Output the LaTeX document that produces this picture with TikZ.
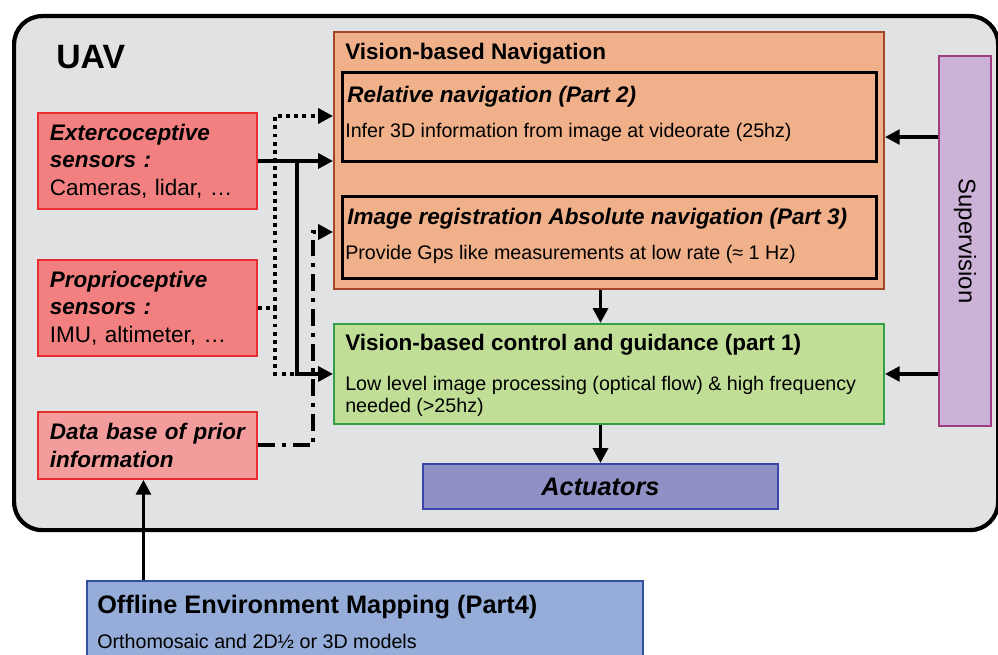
\documentclass[tikz,border=0pt]{standalone}
\usepackage{fontspec}
\setmainfont{Liberation Sans}
\usepackage{tikz}
\usetikzlibrary{arrows.meta, positioning}
\definecolor{uavgray}{RGB}{225,226,228}
\definecolor{navfill}{RGB}{240,176,138}
\definecolor{navdraw}{RGB}{165,70,40}
\definecolor{sensfill}{RGB}{242,128,128}
\definecolor{dbfill}{RGB}{243,156,156}
\definecolor{sensdraw}{RGB}{232,48,48}
\definecolor{ctrlfill}{RGB}{192,222,150}
\definecolor{ctrldraw}{RGB}{50,160,70}
\definecolor{supfill}{RGB}{205,178,216}
\definecolor{supdraw}{RGB}{160,60,130}
\definecolor{actfill}{RGB}{143,144,196}
\definecolor{actdraw}{RGB}{60,70,170}
\definecolor{offfill}{RGB}{149,173,216}
\definecolor{offdraw}{RGB}{50,80,160}

\begin{document}
\begin{tikzpicture}[
 node distance=1.225cm and 1.25cm,
 block/.style={rectangle,draw,line width=1.4pt,inner sep=0pt,anchor=north west},
 sensorbox/.style={rectangle,draw=sensdraw,line width=1.4pt,fill=sensfill,
   minimum width=5.475cm,minimum height=2.4cm,inner xsep=0.3cm,inner ysep=0pt,
   text width=4.875cm,align=left,font=\fontsize{16}{19.5}\selectfont},
 subbox/.style={block,draw=black,line width=2.2pt,minimum width=13.35cm},
 headtext/.style={anchor=base west,inner sep=0pt,font=\fontsize{16}{19}\selectfont\bfseries},
 bodytext/.style={anchor=base west,inner sep=0pt,font=\fontsize{14}{16}\selectfont},
 flowtip/.style={-{Triangle[length=10.5pt,width=10.5pt]}},
 flow/.style={line width=2.5pt,flowtip},
 dotflow/.style={line width=2.8pt,dash pattern=on 2.8pt off 3pt},
 dashdotflow/.style={line width=2.8pt,dash pattern=on 12pt off 5pt on 2.8pt off 5pt}]
 \useasboundingbox (0,0) rectangle (24.95,-16.375);
 \node[block,draw=black,line width=3pt,fill=uavgray,rounded corners=0.7cm,
   minimum width=24.6cm,minimum height=12.85cm] (uav) at (0.3,-0.35) {};
 \node[anchor=base west,inner sep=0pt,font=\fontsize{24}{28}\selectfont\bfseries]
   (uavlabel) at (1.4,-1.725) {UAV};

 \node[block,draw=navdraw,fill=navfill,minimum width=13.75cm,minimum height=6.425cm]
   (nav) at (8.325,-0.775) {};
 \node[headtext] (navtitle) at ([shift={(0.3,-0.725)}]nav.north west)
   {Vision-based Navigation};
 \node[subbox,minimum height=2.225cm] (rel) at ([shift={(0.2,-1)}]nav.north west) {};
 \node[headtext,font=\fontsize{16}{19}\selectfont\bfseries\itshape] (reltitle)
   at ([shift={(0.15,-0.8)}]rel.north west) {Relative navigation (Part 2)};
 \node[bodytext] (reltext) at ([shift={(0.1,-1.675)}]rel.north west)
   {Infer 3D information from image at videorate (25hz)};
 \node[subbox,minimum height=2.05cm,below=0.8cm of rel] (img) {};
 \node[headtext,font=\fontsize{16}{19}\selectfont\bfseries\itshape] (imgtitle)
   at ([shift={(0.15,-0.725)}]img.north west)
   {Image registration Absolute navigation (Part 3)};
 \node[bodytext] (imgtext) at ([shift={(0.1,-1.6)}]img.north west)
   {Provide Gps like measurements at low rate (≈ 1 Hz)};

 \node[block,draw=ctrldraw,fill=ctrlfill,minimum width=13.75cm,minimum height=2.5cm,
   below=0.825cm of nav] (ctrl) {};
 \node[headtext] (ctrltitle) at ([shift={(0.3,-0.7)}]ctrl.north west)
   {Vision-based control and guidance (part 1)};
 \node[anchor=north west,inner sep=0pt,align=left,font=\fontsize{14}{15.6}\selectfont]
   (ctrltext) at ([shift={(0.3,-1.315)}]ctrl.north west)
   {Low level image processing (optical flow) \& high frequency\\needed (>25hz)};

 \node[block,draw=actdraw,fill=actfill,minimum width=8.875cm,minimum height=1.125cm,
   font=\fontsize{18}{21}\selectfont\bfseries\itshape] (act) at (10.55,-11.575) {Actuators};

 \node[block,draw=supdraw,fill=supfill,minimum width=1.3cm,minimum height=9.25cm]
   (sup) at (23.45,-1.375) {};
 \node[rotate=-90,font=\fontsize{17}{20}\selectfont] (suptext) at (sup.center) {Supervision};

 \node[sensorbox,anchor=north west] (ext) at (0.925,-2.8)
   {\textbf{\textit{Extercoceptive}}\\\textbf{\textit{sensors :}}\\Cameras, lidar, …};
 \node[sensorbox,below=of ext] (prop)
   {\textbf{\textit{Proprioceptive}}\\\textbf{\textit{sensors :}}\\IMU, altimeter, …};
 \node[sensorbox,fill=dbfill,minimum height=1.675cm,below=1.35cm of prop] (db)
   {\textbf{\textit{Data~base~of~prior}}\\\textbf{\textit{information}}};

 \node[block,draw=offdraw,fill=offfill,minimum width=13.9cm,minimum height=3cm]
   (off) at (2.15,-14.5) {};
 \node[headtext,font=\fontsize{18}{21}\selectfont\bfseries] (offtitle)
   at ([shift={(0.275,-0.825)}]off.north west) {Offline Environment Mapping (Part4)};
 \node[bodytext] (offtext) at ([shift={(0.275,-1.7)}]off.north west)
   {Orthomosaic and 2D½ or 3D models};

 \draw[flow] (ext.east) -- (ext.east -| nav.west);
 \draw[flow] (ext.east) ++(0.975,0) |- (ctrl.west);
 \draw[dotflow,flowtip] (prop.east) -| ([xshift=-1.45cm,yshift=-2.125cm]nav.north west)
   -- ([yshift=-2.125cm]nav.north west);
 \draw[dotflow] (prop.east) -| ([xshift=-1.45cm]ctrl.west) -- ([xshift=-0.95cm]ctrl.west);
 \draw[dashdotflow,flowtip] (db.east) -| ([xshift=-0.5cm,yshift=-5.025cm]nav.north west)
   -- ([yshift=-5.025cm]nav.north west);
 \draw[flow] (act.north |- nav.south) -- (act.north |- ctrl.north);
 \draw[flow] (act.north |- ctrl.south) -- (act.north);
 \draw[flow] ([yshift=-0.5cm]rel.east -| sup.west) -- ([yshift=-0.5cm]rel.east -| nav.east);
 \draw[flow] (sup.west |- ctrl.east) -- (ctrl.east);
 \draw[flow] ([xshift=-0.1cm]db.south |- off.north) -- ([xshift=-0.1cm]db.south);
\end{tikzpicture}
\end{document}
